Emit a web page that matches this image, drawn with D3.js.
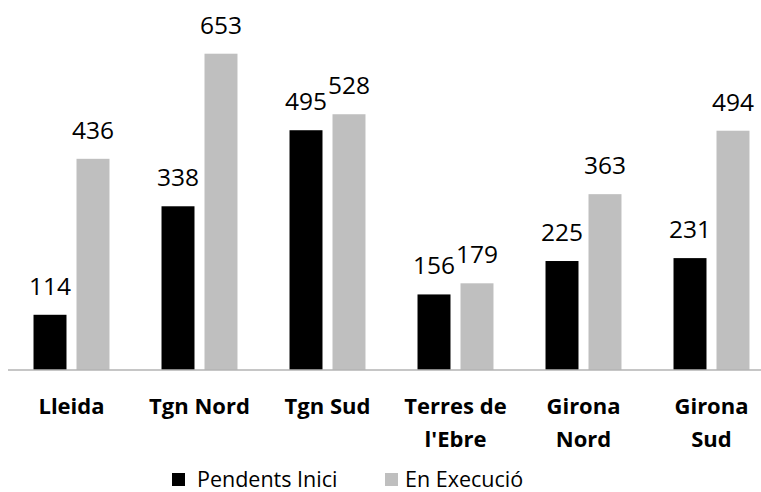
<!DOCTYPE html>
<html>
<head>
<meta charset="utf-8">
<script src="https://cdn.jsdelivr.net/npm/d3@7"></script>
<style>
  body { margin: 0; background: #fff; }
  text { font-family: "Open Sans", sans-serif; }
</style>
</head>
<body>
<svg id="chart" width="761" height="492"></svg>
<script>
//data
var categories = ["Lleida", "Tgn Nord", "Tgn Sud", "Terres de\nl'Ebre", "Girona\nNord", "Girona\nSud"];
var seriesNames = ["Pendents Inici", "En Execució"];
var pendents = [114, 338, 495, 156, 225, 231];
var execucio = [436, 653, 528, 179, 363, 494];
var seriesColors = ["#000000", "#bfbfbf"];

var svg = d3.select("#chart"),
    baseY = 370;

//outer scale per category, inner scale per series
var x0 = d3.scaleBand().domain(categories).range([7.5, 775.5]).paddingInner(0).paddingOuter(0);
var x1 = d3.scaleBand().domain(seriesNames).range([0, x0.bandwidth()]).paddingInner(0.233).paddingOuter(0.605);
var y = d3.scaleLinear().domain([0, 653]).range([baseY, 53.7]);

var rows = categories.map(function (c, i) {
    return {cat: c, values: [pendents[i], execucio[i]]};
});

var groups = svg.append("g").selectAll("g")
    .data(rows)
    .join("g")
    .attr("transform", function (d) { return "translate(" + x0(d.cat) + ",0)"; });

groups.selectAll("rect")
    .data(function (d) { return d.values.map(function (v, j) { return {s: seriesNames[j], v: v, j: j}; }); })
    .join("rect")
    .attr("x", function (d) { return x1(d.s); })
    .attr("y", function (d) { return y(d.v); })
    .attr("width", x1.bandwidth())
    .attr("height", function (d) { return baseY - y(d.v); })
    .attr("fill", function (d) { return seriesColors[d.j]; });

//value labels above the bars
groups.selectAll("text.val")
    .data(function (d) { return d.values.map(function (v, j) { return {s: seriesNames[j], v: v}; }); })
    .join("text")
    .attr("class", "val")
    .attr("x", function (d) { return x1(d.s) + x1.bandwidth() / 2; })
    .attr("y", function (d) { return y(d.v) - 20; })
    .attr("text-anchor", "middle")
    .attr("font-size", 24.5)
    .attr("fill", "#000")
    .text(function (d) { return d.v; });

//axis line
svg.append("line")
    .attr("x1", 8).attr("x2", 761)
    .attr("y1", baseY).attr("y2", baseY)
    .attr("stroke", "#b3b3b3")
    .attr("stroke-width", 1.5);

//category labels, can be two lines
var catLabels = svg.append("g").selectAll("text")
    .data(categories)
    .join("text")
    .attr("x", function (d) { return x0(d) + x0.bandwidth() / 2; })
    .attr("y", 414)
    .attr("text-anchor", "middle")
    .attr("font-size", 22)
    .attr("font-weight", "bold")
    .attr("fill", "#000");

catLabels.selectAll("tspan")
    .data(function (d) { return d.split("\n"); })
    .join("tspan")
    .attr("x", function () { return d3.select(this.parentNode).attr("x"); })
    .attr("dy", function (d, i) { return i === 0 ? 0 : 33; })
    .text(function (d) { return d; });

//legend
var legendX = [172, 385];
var legend = svg.append("g").selectAll("g")
    .data(seriesNames)
    .join("g")
    .attr("transform", function (d, i) { return "translate(" + legendX[i] + ",473)"; });

legend.append("rect")
    .attr("width", 13).attr("height", 13)
    .attr("fill", function (d, i) { return seriesColors[i]; });

legend.append("text")
    .attr("x", function (d, i) { return i === 0 ? 25 : 20; })
    .attr("y", 13.5)
    .attr("font-size", 21.5)
    .attr("fill", "#000")
    .text(function (d) { return d; });
</script>
</body>
</html>
